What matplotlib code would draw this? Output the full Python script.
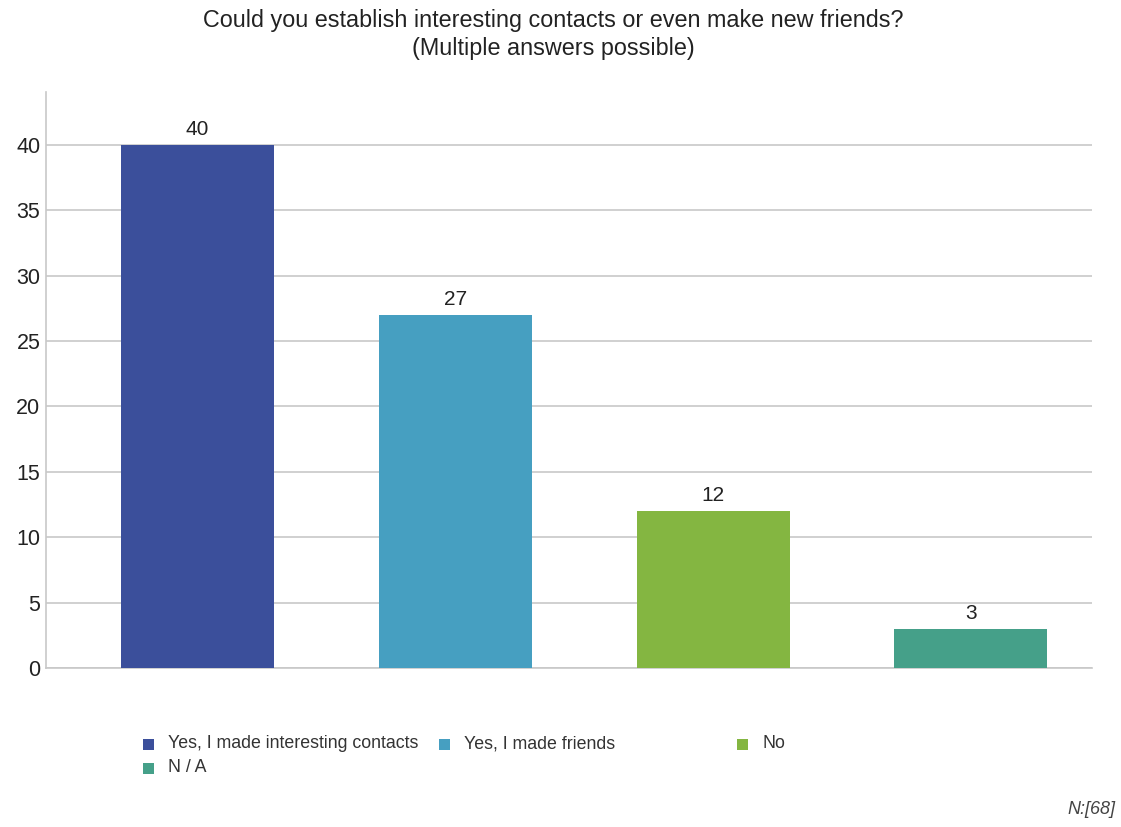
import matplotlib
matplotlib.use("Agg")
import matplotlib.pyplot as plt
import matplotlib.patches as patches

# dane z wykresu
categories = ["Yes, I made interesting contacts", "Yes, I made friends", "No", "N / A"]
values = [40, 27, 12, 3]
colors = ["#3b4f9b", "#469fc1", "#84b641", "#45a089"]
yticks = [0, 5, 10, 15, 20, 25, 30, 35, 40]
title_1 = "Could you establish interesting contacts or even make new friends?"
title_2 = "(Multiple answers possible)"
note = "N:[68]"

plt.rcParams["font.family"] = ["Liberation Sans", "DejaVu Sans"]

fig = plt.figure(figsize=(11.21, 8.27), dpi=100)
W, H = 1121, 827
# osie w pikselach: lewo 46, prawo 1092, gora 92, dol 668
ax = fig.add_axes([46 / W, 1 - 668 / H, (1092 - 46) / W, (668 - 92) / H])

x = list(range(len(values)))
ax.bar(x, values, width=0.594, color=colors, zorder=3)
for xi, v in zip(x, values):
    ax.text(xi, v + 0.45, str(v), ha="center", va="bottom", fontsize=15, color="#222222")

ax.set_xlim(-0.588, 3.47)
ax.set_ylim(0, 44.05)
ax.set_yticks(yticks)
ax.set_xticks([])
ax.tick_params(axis="y", length=0, labelsize=15.5, labelcolor="#222222", pad=4)
ax.grid(axis="y", color="#c8c8c8", linewidth=1.2, zorder=0)
for s in ["top", "right"]:
    ax.spines[s].set_visible(False)
ax.spines["left"].set_color("#c8c8c8")
ax.spines["bottom"].set_color("#c8c8c8")
ax.spines["left"].set_linewidth(1.2)
ax.spines["bottom"].set_linewidth(1.2)

fig.text(553 / W, 1 - 20 / H, title_1, ha="center", va="center", fontsize=16.8, color="#222222")
fig.text(553 / W, 1 - 49 / H, title_2, ha="center", va="center", fontsize=16.8, color="#222222")

# legenda rysowana recznie, wiersz po wierszu
leg_x = [143, 439, 737]
leg_y = [744, 768]
for i, (cat, col) in enumerate(zip(categories, colors)):
    lx = leg_x[i % 3]
    ly = leg_y[i // 3]
    fig.patches.append(patches.Rectangle((lx / W, 1 - (ly + 5.5) / H), 11 / W, 11 / H,
                                         transform=fig.transFigure, facecolor=col, edgecolor="none"))
    fig.text((lx + 25) / W, 1 - ly / H, cat, ha="left", va="center", fontsize=12.8, color="#333333")

fig.text(1115 / W, 1 - 810 / H, note, ha="right", va="center", fontsize=13,
         style="italic", color="#444444")

fig.savefig("out.png", dpi=100)
